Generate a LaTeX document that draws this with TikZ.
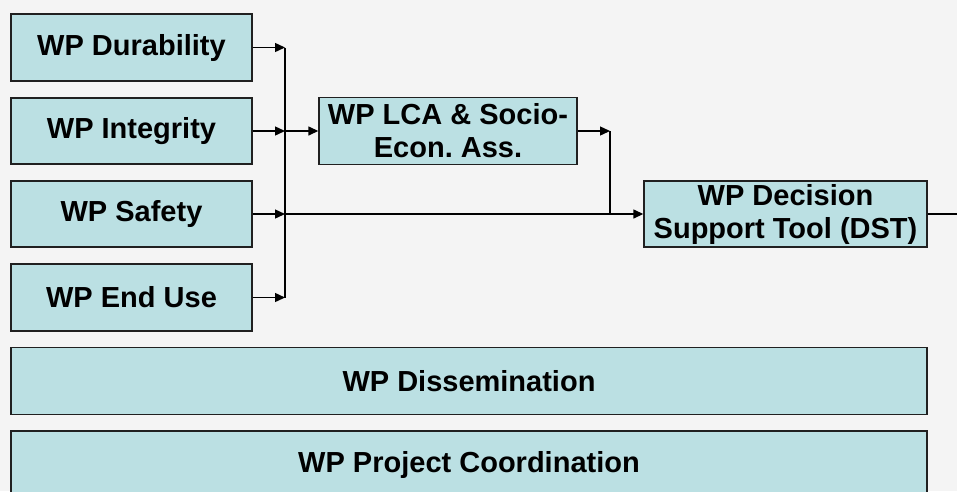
\documentclass[tikz,border=0pt]{standalone}
\usepackage{fontspec}
\setmainfont{Liberation Sans}
\usetikzlibrary{arrows.meta}
\usetikzlibrary{positioning}

\definecolor{wpfill}{HTML}{BBE0E3}
\definecolor{wpline}{HTML}{202020}
\definecolor{wpback}{HTML}{F4F4F4}

\tikzset{
  wp/.style={draw=wpline,fill=wpfill,line width=1.4pt,inner sep=0pt,
    align=center,font=\bfseries\fontsize{29}{33}\selectfont},
  flow/.style={line width=1.4pt,>={Triangle[length=10pt,width=9pt]}}
}

\begin{document}
\begin{tikzpicture}[x=1pt,y=-1pt]

  \fill[wpback] (0,0) rectangle (957,491);
  \useasboundingbox (0,0) rectangle (957,491);

  % the four input work packages
  \node[wp,minimum width=241pt,minimum height=67pt] at (131.5,47.5) (dur) {WP Durability};
  \node[wp,minimum width=241pt,minimum height=66pt] at (131.5,131) (integ) {WP Integrity};
  \node[wp,minimum width=241pt,minimum height=66pt] at (131.5,214) (safe) {WP Safety};
  \node[wp,minimum width=241pt,minimum height=67pt] at (131.5,297.5) (enduse) {WP End Use};

  % assessment and tool
  \node[wp,minimum width=258pt,minimum height=67pt] at (448,131) (lca) {WP LCA \& Socio-\\Econ.\ Ass.};
  \node[wp,minimum width=283pt,minimum height=66pt] at (785.5,214) (dst) {WP Decision\\Support Tool (DST)};

  % the two bars running underneath
  \node[wp,minimum width=916pt,minimum height=67pt] at (469,381) (diss) {WP Dissemination};
  \node[wp,minimum width=916pt,minimum height=67pt] at (469,464.5) (coord) {WP Project Coordination};

  % x positions of the vertical joins
  \coordinate (bus) at (285,0);
  \coordinate (join) at (610,0);
  \coordinate (edge) at (957,0);

  % inputs into the bus
  \foreach \n in {dur,integ,safe,enduse}
    \draw[flow,->] (\n.east) -- (\n.east -| bus);
  \draw[flow] (dur.east -| bus) -- (enduse.east -| bus);

  % bus onwards
  \draw[flow,->] (integ.east -| bus) -- (lca.west);
  \draw[flow,->] (safe.east -| bus) -- (dst.west);

  % lca down into the dst line
  \draw[flow,->] (lca.east) -- (lca.east -| join);
  \draw[flow] (lca.east -| join) -- (dst.west -| join);

  % dst output
  \draw[flow] (dst.east) -- (dst.east -| edge);

\end{tikzpicture}
\end{document}
